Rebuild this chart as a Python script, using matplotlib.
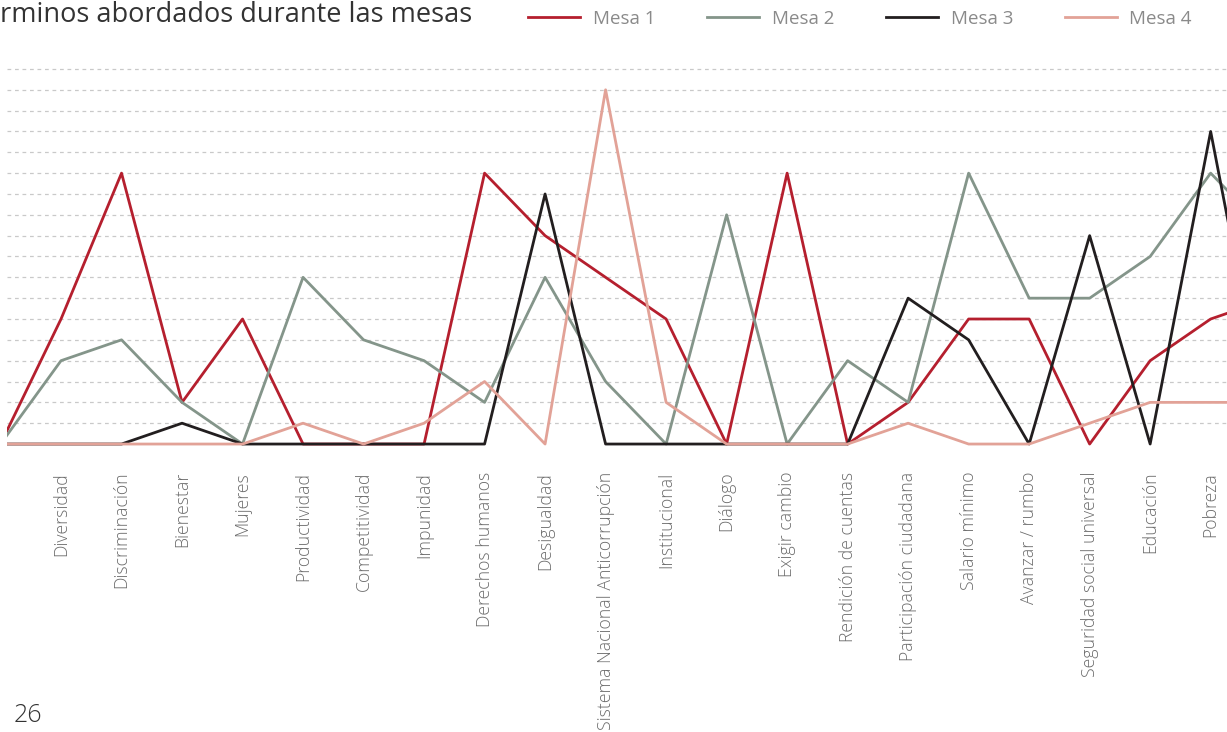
import matplotlib.pyplot as plt

plt.rcParams['font.family'] = ['Open Sans', 'DejaVu Sans']

# Terms mentioned in each working table (mesa)
terms = ['Diversidad', 'Discriminación', 'Bienestar', 'Mujeres', 'Productividad',
         'Competitividad', 'Impunidad', 'Derechos humanos', 'Desigualdad',
         'Sistema Nacional Anticorrupción', 'Institucional', 'Diálogo',
         'Exigir cambio', 'Rendición de cuentas', 'Participación ciudadana',
         'Salario mínimo', 'Avanzar / rumbo', 'Seguridad social universal',
         'Educación', 'Pobreza']

# first value is the entry point before "Diversidad", last one runs past "Pobreza"
mesa1 = [0, 6, 13, 2, 6, 0, 0, 0, 13, 10, 8, 6, 0, 13, 0, 2, 6, 6, 0, 4, 6, 7]
mesa2 = [0, 4, 5, 2, 0, 8, 5, 4, 2, 8, 3, 0, 11, 0, 4, 2, 13, 7, 7, 9, 13, 10]
mesa3 = [0, 0, 0, 1, 0, 0, 0, 0, 0, 12, 0, 0, 0, 0, 0, 7, 5, 0, 10, 0, 15, 0]
mesa4 = [0, 0, 0, 0, 0, 1, 0, 1, 3, 0, 17, 2, 0, 0, 0, 1, 0, 0, 1, 2, 2, 2]

series = [('Mesa 1', mesa1, '#b51f2e'),
          ('Mesa 2', mesa2, '#84958a'),
          ('Mesa 3', mesa3, '#221e1f'),
          ('Mesa 4', mesa4, '#e2a297')]

x = list(range(-1, len(terms) + 1))

fig = plt.figure(figsize=(12.27, 7.32), dpi=100)
ax = fig.add_axes([0.0057, 0.3877, 0.9943, 0.5238])

for y in range(1, 19):
    ax.axhline(y, color='#c9c9c9', lw=0.9, ls=(0, (3, 3)), zorder=0)

for name, vals, color in series:
    ax.plot(x, vals, color=color, lw=2.0, label=name, solid_joinstyle='round')

ax.set_xlim(-0.893, 19.27)
ax.set_ylim(-0.2, 18.2)
ax.set_xticks(range(len(terms)))
ax.set_xticklabels(terms, rotation=90, fontsize=12.7, color='#6c6c6c',
                   fontweight='light', va='top', ha='center')
ax.tick_params(axis='x', length=0, pad=17)
ax.set_yticks([])
for s in ax.spines.values():
    s.set_visible(False)

# page title (only the part inside the page margin)
fig.text(0, 1 - 15 / 732, 'rminos abordados durante las mesas',
         ha='left', va='center', fontsize=19.5, color='#333333')

fig.legend(loc='center left', bbox_to_anchor=(528 / 1227, 1 - 19 / 732), ncol=4,
           frameon=False, fontsize=13.5, handlelength=2.77, handletextpad=0.69,
           columnspacing=2.75, labelcolor='#8a8a8a', borderaxespad=0,
           borderpad=0)

fig.text(14 / 1227, 1 - 716 / 732, '26', ha='left', va='center',
         fontsize=18, color='#333333', fontweight='light')

fig.savefig('out.png', dpi=100)
